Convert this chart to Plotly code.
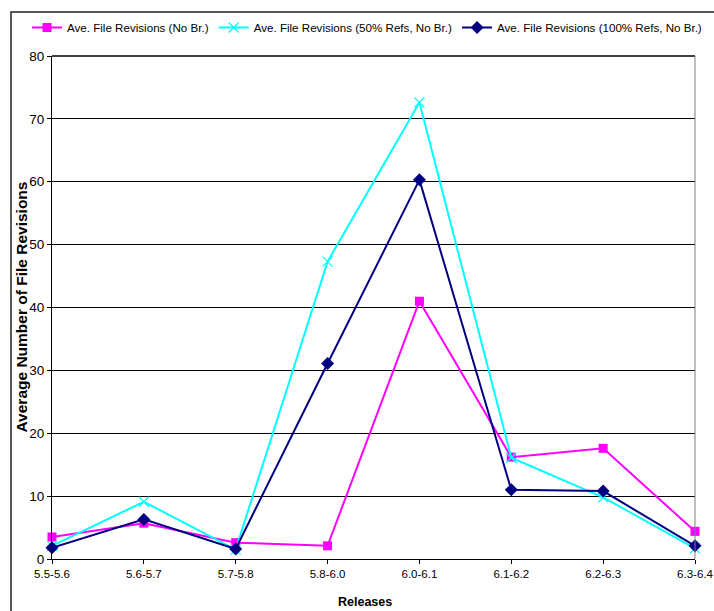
import plotly.graph_objects as go

# Release intervals on the x axis
releases = ["5.5-5.6", "5.6-5.7", "5.7-5.8", "5.8-6.0",
            "6.0-6.1", "6.1-6.2", "6.2-6.3", "6.3-6.4"]

# Average file revisions per interval
rev_no_br = [3.5, 5.7, 2.6, 2.1, 41.0, 16.2, 17.6, 4.4]
rev_50_refs = [2.1, 9.1, 1.5, 47.3, 72.6, 16.1, 9.8, 1.7]
rev_100_refs = [1.8, 6.3, 1.6, 31.1, 60.3, 11.0, 10.8, 2.1]

y_ticks = list(range(0, 81, 10))

W, H = 714, 611
ML, MR, MT, MB = 52, 19, 56, 52
PW, PH = W - ML - MR, H - MT - MB

FONT = "Liberation Sans, Arial, sans-serif"

fig = go.Figure()

fig.add_trace(go.Scatter(
    x=releases, y=rev_no_br, mode="lines+markers",
    name="Ave. File Revisions (No Br.)",
    line=dict(color="#FF00FF", width=2),
    marker=dict(symbol="square", size=9, color="#FF00FF"),
    cliponaxis=False,
))
fig.add_trace(go.Scatter(
    x=releases, y=rev_50_refs, mode="lines+markers",
    name="Ave. File Revisions (50% Refs, No Br.)",
    line=dict(color="#00FFFF", width=2),
    marker=dict(symbol="x-thin", size=10, color="#00FFFF",
                line=dict(color="#00FFFF", width=1.2)),
    cliponaxis=False,
))
fig.add_trace(go.Scatter(
    x=releases, y=rev_100_refs, mode="lines+markers",
    name="Ave. File Revisions (100% Refs, No Br.)",
    line=dict(color="#000080", width=2),
    marker=dict(symbol="diamond", size=10, color="#000080"),
    cliponaxis=False,
))


def px_x(p):
    return (p - ML) / PW


def px_y(p):
    return 1 - (p - MT) / PH


shapes = [
    # outer chart frame
    dict(type="rect", xref="paper", yref="paper",
         x0=px_x(11), x1=px_x(760), y0=px_y(12), y1=px_y(700),
         line=dict(color="#222222", width=1.5), layer="below"),
    # plot area top and right edges
    dict(type="line", xref="paper", yref="paper", x0=0, x1=1, y0=1, y1=1,
         line=dict(color="#000000", width=1.5)),
    dict(type="line", xref="paper", yref="paper", x0=1, x1=1, y0=0, y1=1,
         line=dict(color="#808080", width=1)),
]

annotations = [
    dict(text="<b>Average Number of File Revisions</b>", textangle=-90,
         xref="paper", yref="paper", x=px_x(21), y=0.5,
         xanchor="center", yanchor="middle", showarrow=False,
         font=dict(family=FONT, size=15.5, color="black")),
    dict(text="<b>Releases</b>",
         xref="paper", yref="paper", x=px_x(365), y=px_y(602),
         xanchor="center", yanchor="middle", showarrow=False,
         font=dict(family=FONT, size=12.5, color="black")),
]

fig.update_layout(
    width=W, height=H,
    margin=dict(l=ML, r=MR, t=MT, b=MB, autoexpand=False),
    paper_bgcolor="white", plot_bgcolor="white",
    showlegend=True,
    legend=dict(
        orientation="h", x=px_x(27), xanchor="left",
        y=px_y(13), yanchor="top",
        font=dict(family=FONT, size=11.6, color="black"),
        bgcolor="rgba(0,0,0,0)", itemwidth=30,
    ),
    shapes=shapes,
    annotations=annotations,
    xaxis=dict(
        type="category", range=[0, len(releases) - 1],
        showgrid=False, showline=True, linecolor="black", linewidth=1,
        ticks="outside", ticklen=4, tickcolor="black",
        tickfont=dict(family=FONT, size=11.5, color="black"),
        zeroline=False, automargin=False,
    ),
    yaxis=dict(
        range=[0, 80], tickvals=y_ticks,
        showgrid=True, gridcolor="black", gridwidth=1,
        showline=True, linecolor="black", linewidth=1,
        ticks="outside", ticklen=4, tickcolor="black",
        tickfont=dict(family=FONT, size=13.5, color="black"),
        zeroline=False, automargin=False,
    ),
)

fig.write_html("out.html")
